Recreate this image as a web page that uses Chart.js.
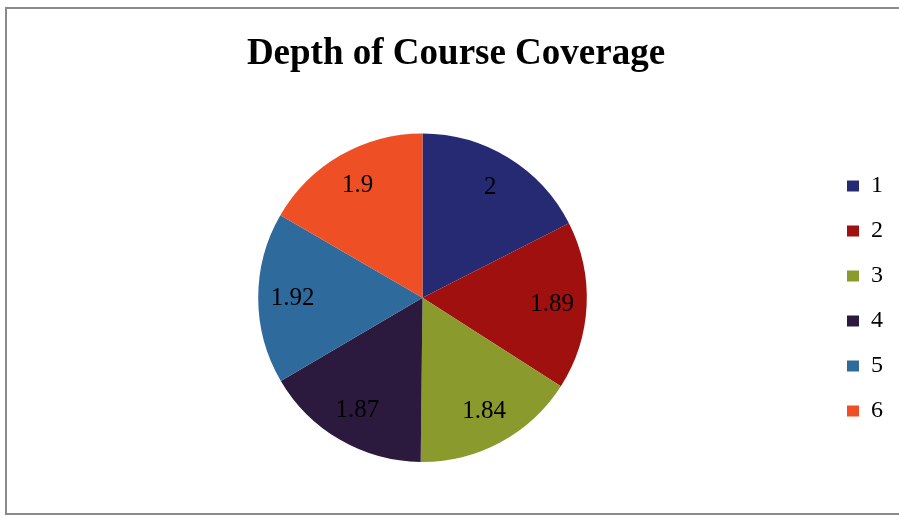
<!DOCTYPE html>
<html><head><meta charset="utf-8">
<script src="https://cdn.jsdelivr.net/npm/chart.js@4/dist/chart.umd.min.js"></script>
<style>
html,body{margin:0;padding:0;background:#fff;overflow:hidden;width:899px;height:516px;}
#box{position:absolute;left:5px;top:7px;width:905px;height:504px;border:2px solid #8a8a8a;background:#fff;}
#wrap{position:absolute;left:0;top:0;width:905px;height:504px;}
</style></head>
<body>
<div id="box"><div id="wrap"><canvas id="c"></canvas></div></div>
<script>
const title = "Depth of Course Coverage";
const categories = ["1", "2", "3", "4", "5", "6"];
const values = [2, 1.89, 1.84, 1.87, 1.92, 1.9];
const colors = ["#262a72", "#a0100f", "#8a9a2c", "#2c1a3e", "#2e6a9c", "#ee4f25"];

const sliceLabels = {
  id: 'sliceLabels',
  afterDatasetsDraw(chart) {
    const ctx = chart.ctx;
    const meta = chart.getDatasetMeta(0);
    ctx.save();
    ctx.font = '25px "Liberation Serif", "Times New Roman", serif';
    ctx.fillStyle = '#000';
    ctx.textAlign = 'center';
    ctx.textBaseline = 'middle';
    meta.data.forEach((arc, i) => {
      const p = arc.getProps(['x', 'y', 'startAngle', 'endAngle', 'outerRadius']);
      const a = (p.startAngle + p.endAngle) / 2;
      const r = p.outerRadius * 0.79;
      ctx.fillText(String(values[i]), p.x + Math.cos(a) * r, p.y + Math.sin(a) * r);
    });
    ctx.restore();
  }
};

new Chart(document.getElementById('c'), {
  type: 'pie',
  data: {
    labels: categories,
    datasets: [{ data: values, backgroundColor: colors, borderWidth: 0 }]
  },
  options: {
    responsive: true,
    maintainAspectRatio: false,
    animation: false,
    layout: { padding: { left: 12, right: 19, top: 0, bottom: 51 } },
    plugins: {
      title: {
        display: true,
        text: title,
        color: '#000',
        font: { family: '"Liberation Serif", "Times New Roman", serif', size: 37, weight: 'bold', lineHeight: 1.2 },
        padding: { top: 23, bottom: 57 }
      },
      legend: {
        position: 'right',
        title: {
          display: true,
          text: ' ',
          font: { size: 10, lineHeight: 1.2 },
          padding: { top: 57, bottom: 57 }
        },
        labels: {
          color: '#000',
          font: { family: '"Liberation Serif", "Times New Roman", serif', size: 24 },
          boxWidth: 12,
          boxHeight: 11,
          padding: 21
        }
      },
      tooltip: { enabled: false }
    }
  },
  plugins: [sliceLabels]
});
</script>
</body></html>
